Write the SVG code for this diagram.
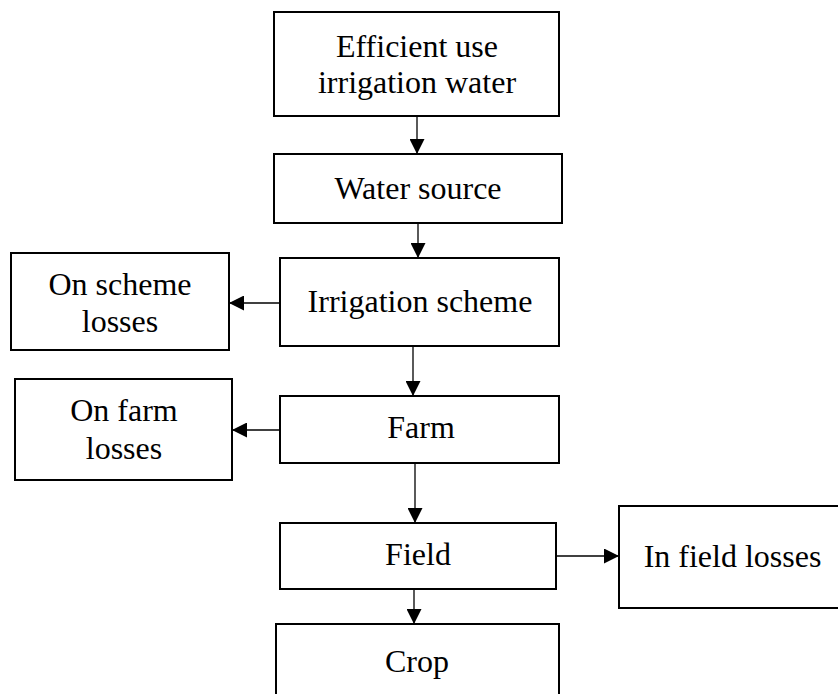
<svg xmlns="http://www.w3.org/2000/svg" width="838" height="694" viewBox="0 0 838 694">
<style>
.box{fill:#fff;stroke:#000;stroke-width:2}
.t{font-family:"Liberation Serif","Times New Roman",serif;font-size:32px;fill:#000;text-anchor:middle}
.c{stroke:#000;stroke-width:1.3;fill:none;marker-end:url(#ah)}
</style>
<defs>
<marker id="ah" markerUnits="userSpaceOnUse" markerWidth="15" markerHeight="15" refX="15" refY="7.5" orient="auto">
<path d="M0,0 L15,7.5 L0,15 z" fill="#000"/>
</marker>
</defs>
<rect width="838" height="694" fill="#fff"/>
<g id="connectors">
<line class="c" x1="417" y1="116" x2="417" y2="154"/>
<line class="c" x1="418" y1="223" x2="418" y2="258"/>
<line class="c" x1="280" y1="303" x2="229" y2="303"/>
<line class="c" x1="413" y1="346" x2="413" y2="396"/>
<line class="c" x1="280" y1="430" x2="232" y2="430"/>
<line class="c" x1="415" y1="463" x2="415" y2="523"/>
<line class="c" x1="556" y1="556" x2="619" y2="556"/>
<line class="c" x1="414" y1="589" x2="414" y2="624"/>
</g>
<g id="efficient">
<rect class="box" x="274" y="12" width="285" height="104"/>
<text class="t" x="417" y="57">Efficient use</text>
<text class="t" x="417" y="93">irrigation water</text>
</g>
<g id="water-source">
<rect class="box" x="274" y="154" width="288" height="69"/>
<text class="t" x="418" y="199">Water source</text>
</g>
<g id="irrigation-scheme">
<rect class="box" x="280" y="258" width="279" height="88"/>
<text class="t" x="420" y="312">Irrigation scheme</text>
</g>
<g id="on-scheme-losses">
<rect class="box" x="11" y="253" width="218" height="97"/>
<text class="t" x="120" y="295">On scheme</text>
<text class="t" x="120" y="332">losses</text>
</g>
<g id="farm">
<rect class="box" x="280" y="396" width="279" height="67"/>
<text class="t" x="421" y="438">Farm</text>
</g>
<g id="on-farm-losses">
<rect class="box" x="15" y="379" width="217" height="101"/>
<text class="t" x="124" y="421">On farm</text>
<text class="t" x="124" y="459">losses</text>
</g>
<g id="field">
<rect class="box" x="280" y="523" width="276" height="66"/>
<text class="t" x="418" y="565">Field</text>
</g>
<g id="in-field-losses">
<rect class="box" x="619" y="506" width="227" height="102"/>
<text class="t" x="732.5" y="567">In field losses</text>
</g>
<g id="crop">
<rect class="box" x="276" y="624" width="283" height="80"/>
<text class="t" x="417" y="672">Crop</text>
</g>
</svg>
